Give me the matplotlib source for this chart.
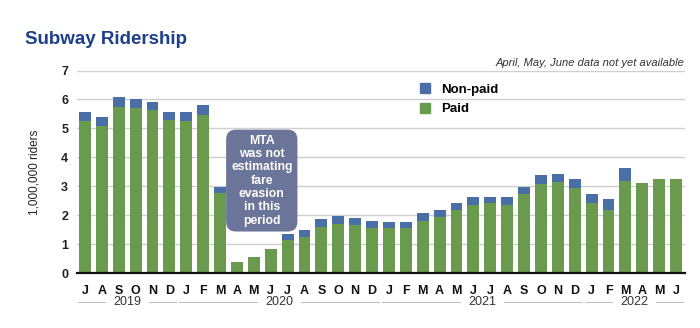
import matplotlib
matplotlib.use("Agg")
import matplotlib.pyplot as plt
import matplotlib.transforms as mtransforms
from matplotlib.patches import Patch

plt.rcParams['font.family'] = ['Liberation Sans', 'DejaVu Sans']

# Monthly subway ridership, July 2019 - June 2022 (millions of riders)
months = ["J", "A", "S", "O", "N", "D",
          "J", "F", "M", "A", "M", "J", "J", "A", "S", "O", "N", "D",
          "J", "F", "M", "A", "M", "J", "J", "A", "S", "O", "N", "D",
          "J", "F", "M", "A", "M", "J"]
paid = [5.25, 5.10, 5.75, 5.71, 5.62, 5.30,
        5.25, 5.46, 2.78, 0.40, 0.55, 0.84, 1.15, 1.27, 1.61, 1.71, 1.65, 1.56,
        1.56, 1.56, 1.82, 1.96, 2.17, 2.37, 2.42, 2.37, 2.73, 3.08, 3.14, 2.93,
        2.42, 2.17, 3.20, 3.13, 3.27, 3.24]
non_paid = [0.31, 0.31, 0.32, 0.32, 0.30, 0.26,
            0.31, 0.35, 0.20, 0.00, 0.00, 0.00, 0.21, 0.24, 0.25, 0.26, 0.27, 0.26,
            0.21, 0.21, 0.26, 0.22, 0.27, 0.27, 0.22, 0.27, 0.25, 0.32, 0.29, 0.31,
            0.32, 0.41, 0.43, 0.00, 0.00, 0.00]
years = ["2019", "2020", "2021", "2022"]
year_spans = [(0, 5), (6, 17), (18, 29), (30, 35)]
y_ticks = [0, 1, 2, 3, 4, 5, 6, 7]

GREEN = "#6a9a4e"
BLUE = "#4a6ea6"
NAVY = "#1d3f8c"
BOX = "#6b7499"

fig = plt.figure(figsize=(7.0, 3.28), dpi=100)
ax = fig.add_axes([76.5 / 700, 1 - 273.3 / 328, 608 / 700, 202.8 / 328])

x = list(range(len(months)))
ax.bar(x, paid, width=0.7, color=GREEN, zorder=3)
ax.bar(x, non_paid, bottom=paid, width=0.7, color=BLUE, zorder=3)

ax.set_xlim(-0.5, len(months) - 0.5)
ax.set_ylim(0, 7)
ax.set_yticks(y_ticks)
ax.set_yticklabels([str(t) for t in y_ticks], fontsize=9, fontweight='bold', color="#222222")
ax.yaxis.grid(True, color="#cfcfcf", linewidth=1.0, zorder=0)
ax.tick_params(axis='y', length=0, pad=6)
ax.tick_params(axis='x', length=0)
ax.set_xticks([])
for s in ["top", "right", "left"]:
    ax.spines[s].set_visible(False)
ax.spines["bottom"].set_color("#111111")
ax.spines["bottom"].set_linewidth(1.6)
ax.spines["bottom"].set_zorder(4)

ax.set_ylabel("1,000,000 riders", fontsize=8.5, labelpad=15, color="#222222")

# Month letters and year groups below the axis
trans = mtransforms.blended_transform_factory(ax.transData, ax.transAxes)
for i, m in enumerate(months):
    ax.text(i, -0.085, m, transform=trans, ha='center', va='center',
            fontsize=9, fontweight='bold', color="#111111")
for yr, (a, b) in zip(years, year_spans):
    mid = (a + b) / 2
    half = 1.3
    ax.text(mid, -0.142, yr, transform=trans, ha='center', va='center',
            fontsize=9, color="#333333")
    ax.plot([a - 0.42, mid - half], [-0.142, -0.142], transform=trans,
            color="#bbbbbb", linewidth=0.7, clip_on=False)
    ax.plot([mid + half, b + 0.42], [-0.142, -0.142], transform=trans,
            color="#bbbbbb", linewidth=0.7, clip_on=False)

# Note on missing non-paid estimates during early pandemic
ax.text(10.47, 3.2, "MTA\nwas not\nestimating\nfare\nevasion\nin this\nperiod",
        ha='center', va='center', fontsize=8.8, fontweight='bold', color='white',
        linespacing=1.15, zorder=5,
        bbox=dict(boxstyle="round,pad=0.4,rounding_size=0.8", fc=BOX, ec='none'))

handles = [Patch(color=BLUE, label="Non-paid"), Patch(color=GREEN, label="Paid")]
leg = fig.legend(handles=handles, loc='upper left', bbox_to_anchor=(408 / 700, 1 - 71 / 328),
                 frameon=False, fontsize=9.5, handlelength=0.8, handleheight=0.8,
                 handletextpad=0.8, labelspacing=0.55)
for t in leg.get_texts():
    t.set_fontweight('bold')

fig.text(25 / 700, 1 - 40 / 328, "Subway Ridership", fontsize=13.5, fontweight='bold',
         color=NAVY, ha='left', va='center')
fig.text(684 / 700, 1 - 63 / 328, "April, May, June data not yet available",
         fontsize=8, style='italic', color="#333333", ha='right', va='center')

fig.savefig("out.png", dpi=100)
